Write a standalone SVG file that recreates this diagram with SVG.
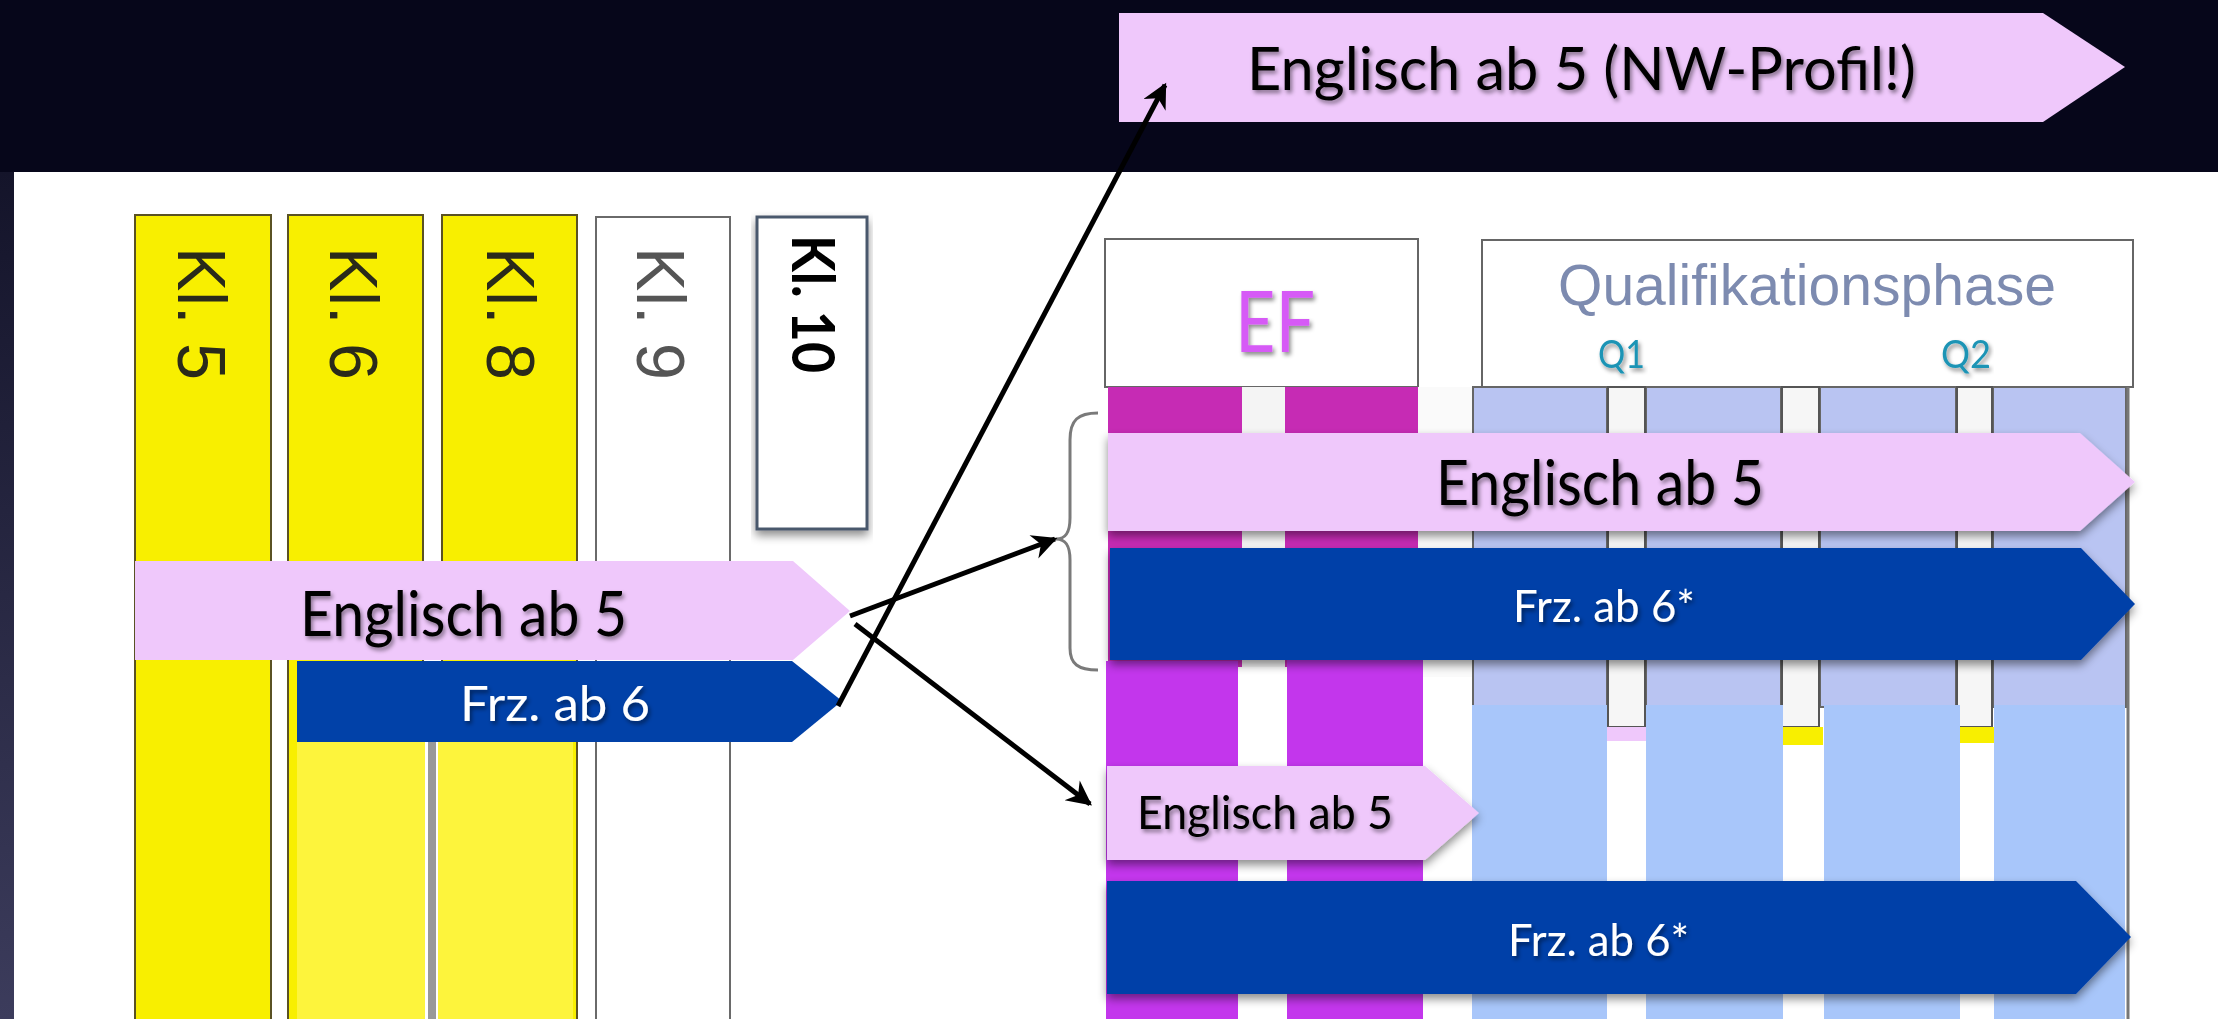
<svg xmlns="http://www.w3.org/2000/svg" width="2218" height="1019" viewBox="0 0 2218 1019">
<defs>
<style>
.gill{font-family:Lato,"Open Sans","Noto Sans",sans-serif;}
.helv{font-family:"Liberation Sans",Arial,sans-serif;}
.pink{fill:#efc8fb;}
.blue{fill:#0141a8;}
.yel{fill:#f8ef00;stroke:#5a5224;stroke-width:2;}
.wcol{fill:#ffffff;stroke:#6a6a6a;stroke-width:2;}
.dark{fill:#000000;}
.white{fill:#ffffff;}
.oldq{fill:#b9c4f2;stroke:#666;stroke-width:2;}
.oldm{fill:#c62bb4;}
.newq{fill:#a8c6fa;}
.newm{fill:#c336ec;}
.conn{stroke:#000;stroke-width:5;fill:none;marker-end:url(#ah);}
</style>
<marker id="ah" viewBox="0 0 10 10" refX="9" refY="5" markerWidth="6" markerHeight="5" orient="auto" markerUnits="strokeWidth">
<path d="M0,0 L10,5 L0,10 L3,5 z" fill="#000"/>
</marker>
<filter id="sh" x="-5%" y="-20%" width="110%" height="150%">
<feDropShadow dx="0" dy="5" stdDeviation="5" flood-color="#000" flood-opacity="0.45"/>
</filter>
<filter id="ts" x="-5%" y="-20%" width="110%" height="150%">
<feDropShadow dx="2" dy="3" stdDeviation="2" flood-color="#000" flood-opacity="0.45"/>
</filter>
<linearGradient id="lg" x1="0" y1="0" x2="0" y2="1">
<stop offset="0" stop-color="#14142a"/>
<stop offset="1" stop-color="#3c3c5c"/>
</linearGradient>
</defs>

<!-- background -->
<rect x="0" y="0" width="2218" height="1019" fill="#06061a"/>
<rect x="0" y="172" width="14" height="847" fill="url(#lg)"/>
<rect x="14" y="172" width="2204" height="847" fill="#ffffff"/>

<!-- left class columns -->
<g id="kl5">
<rect class="yel" x="135" y="215" width="136" height="810"/>
<text class="helv" fill="#2a2a1a" font-size="68" textLength="133" lengthAdjust="spacingAndGlyphs" transform="translate(178,247) rotate(90)">Kl. 5</text>
</g>
<g id="kl6">
<rect class="yel" x="288" y="215" width="135" height="810"/>
<rect x="297" y="742" width="128" height="280" fill="#fdf43c"/>
<text class="helv" fill="#2a2a1a" font-size="68" textLength="133" lengthAdjust="spacingAndGlyphs" transform="translate(330,247) rotate(90)">Kl. 6</text>
</g>
<g id="kl8">
<rect class="yel" x="442" y="215" width="135" height="810"/>
<rect x="438" y="742" width="135" height="280" fill="#fdf43c"/>
<line x1="432" y1="742" x2="432" y2="1019" stroke="#999" stroke-width="8"/>
<text class="helv" fill="#2a2a1a" font-size="68" textLength="133" lengthAdjust="spacingAndGlyphs" transform="translate(487,247) rotate(90)">Kl. 8</text>
</g>
<g id="kl9">
<rect class="wcol" x="596" y="217" width="134" height="808"/>
<text class="helv" fill="#555" font-size="68" textLength="133" lengthAdjust="spacingAndGlyphs" transform="translate(637,247) rotate(90)">Kl. 9</text>
</g>
<g id="kl10">
<rect x="757" y="217" width="110" height="312" fill="#fff" stroke="#4a586c" stroke-width="3" filter="url(#sh)"/>
<text class="gill" fill="#000" font-size="60" font-weight="bold" textLength="138" lengthAdjust="spacingAndGlyphs" transform="translate(792,235) rotate(90)">Kl. 10</text>
</g>

<!-- left arrows -->
<g id="left-englisch">
<polygon class="pink" points="135,561 793,561 850,611 793,660 135,660"/>
<text class="gill dark" font-size="61" x="300" y="636" textLength="327" lengthAdjust="spacingAndGlyphs" filter="url(#ts)">Englisch ab 5</text>
</g>
<g id="left-frz">
<polygon class="blue" points="297,661 792,661 842,701 792,742 297,742"/>
<text class="gill white" font-size="49" x="460" y="721" textLength="190" lengthAdjust="spacingAndGlyphs" filter="url(#ts)">Frz. ab 6</text>
</g>

<!-- top arrow -->
<g id="top-englisch-nw">
<polygon class="pink" points="1119,13 2043,13 2125,67 2043,122 1119,122"/>
<text class="gill dark" font-size="60" x="1247" y="90" textLength="669" lengthAdjust="spacingAndGlyphs" filter="url(#ts)">Englisch ab 5 (NW-Profil!)</text>
</g>

<!-- right table headers -->
<g id="ef-header">
<rect x="1105" y="239" width="313" height="148" fill="#fff" stroke="#666" stroke-width="2"/>
<text class="gill" fill="#d65af6" font-size="86" x="1235" y="352" textLength="80" lengthAdjust="spacingAndGlyphs" filter="url(#ts)">EF</text>
</g>
<g id="q-header">
<rect x="1482" y="240" width="651" height="147" fill="#fff" stroke="#666" stroke-width="2"/>
<text class="helv" fill="#7d8bb0" font-size="57" x="1558" y="305" textLength="498" lengthAdjust="spacingAndGlyphs">Qualifikationsphase</text>
<text class="gill" fill="#1d94b5" font-size="39" x="1598" y="368" textLength="47" lengthAdjust="spacingAndGlyphs" filter="url(#ts)">Q1</text>
<text class="gill" fill="#1d94b5" font-size="39" x="1941" y="368" textLength="50" lengthAdjust="spacingAndGlyphs" filter="url(#ts)">Q2</text>
</g>

<!-- old table columns -->
<g id="table">
<rect class="oldm" x="1108" y="387" width="134" height="280"/>
<rect class="oldm" x="1285" y="387" width="133" height="280"/>
<rect x="1242" y="387" width="43" height="280" fill="#f4f4f4"/>
<rect x="1418" y="387" width="55" height="290" fill="#fafafa"/>
<rect class="oldq" x="1473" y="387" width="134" height="320"/>
<rect class="oldq" x="1646" y="387" width="135" height="320"/>
<rect class="oldq" x="1820" y="387" width="136" height="320"/>
<rect class="oldq" x="1993" y="387" width="133" height="320"/>
<rect x="1608" y="387" width="37" height="340" fill="#f6f6f6" stroke="#555" stroke-width="2"/>
<rect x="1782" y="387" width="37" height="340" fill="#f6f6f6" stroke="#555" stroke-width="2"/>
<rect x="1957" y="387" width="35" height="340" fill="#f6f6f6" stroke="#555" stroke-width="2"/>
<rect x="1607" y="727" width="39" height="14" fill="#efc8fb"/>
<rect x="1783" y="727" width="40" height="18" fill="#f8ef00"/>
<rect x="1960" y="727" width="34" height="16" fill="#f8ef00"/>
<line x1="2128" y1="387" x2="2128" y2="1019" stroke="#777" stroke-width="3"/>
<rect class="newm" x="1106" y="661" width="132" height="358"/>
<rect class="newm" x="1287" y="657" width="136" height="362"/>
<rect class="newq" x="1472" y="705" width="135" height="314"/>
<rect class="newq" x="1646" y="705" width="137" height="314"/>
<rect class="newq" x="1824" y="705" width="136" height="314"/>
<rect class="newq" x="1994" y="705" width="131" height="314"/>
</g>

<!-- right arrows -->
<g id="mid-englisch">
<polygon class="pink" points="1108,433 2080,433 2135,482 2080,531 1108,531" filter="url(#sh)"/>
<text class="gill dark" font-size="61" x="1436" y="505" textLength="328" lengthAdjust="spacingAndGlyphs" filter="url(#ts)">Englisch ab 5</text>
</g>
<g id="mid-frz">
<polygon class="blue" points="1110,548 2081,548 2135,604 2081,660 1110,660" filter="url(#sh)"/>
<text class="gill white" font-size="45" x="1513" y="622" textLength="182" lengthAdjust="spacingAndGlyphs" filter="url(#ts)">Frz. ab 6*</text>
</g>
<g id="small-englisch">
<polygon class="pink" points="1107,766 1425,766 1479,813 1425,860 1107,860" filter="url(#sh)"/>
<text class="gill dark" font-size="47" x="1137" y="829" textLength="256" lengthAdjust="spacingAndGlyphs" filter="url(#ts)">Englisch ab 5</text>
</g>
<g id="bottom-frz">
<polygon class="blue" points="1107,881 2076,881 2131,937 2076,994 1107,994" filter="url(#sh)"/>
<text class="gill white" font-size="45" x="1508" y="956" textLength="181" lengthAdjust="spacingAndGlyphs" filter="url(#ts)">Frz. ab 6*</text>
</g>

<!-- brace -->
<g id="brace">
<path d="M1098,413 C1078,413 1070,420 1070,440 L1070,518 C1070,532 1066,539 1056,539 C1066,539 1070,546 1070,560 L1070,648 C1070,664 1078,670 1098,670" fill="none" stroke="#7a7a7a" stroke-width="3"/>
</g>

<!-- connectors -->
<g id="connectors">
<line class="conn" x1="838" y1="706" x2="1165" y2="85"/>
<line class="conn" x1="850" y1="616" x2="1055" y2="539"/>
<line class="conn" x1="855" y1="624" x2="1090" y2="804"/>
</g>
</svg>
